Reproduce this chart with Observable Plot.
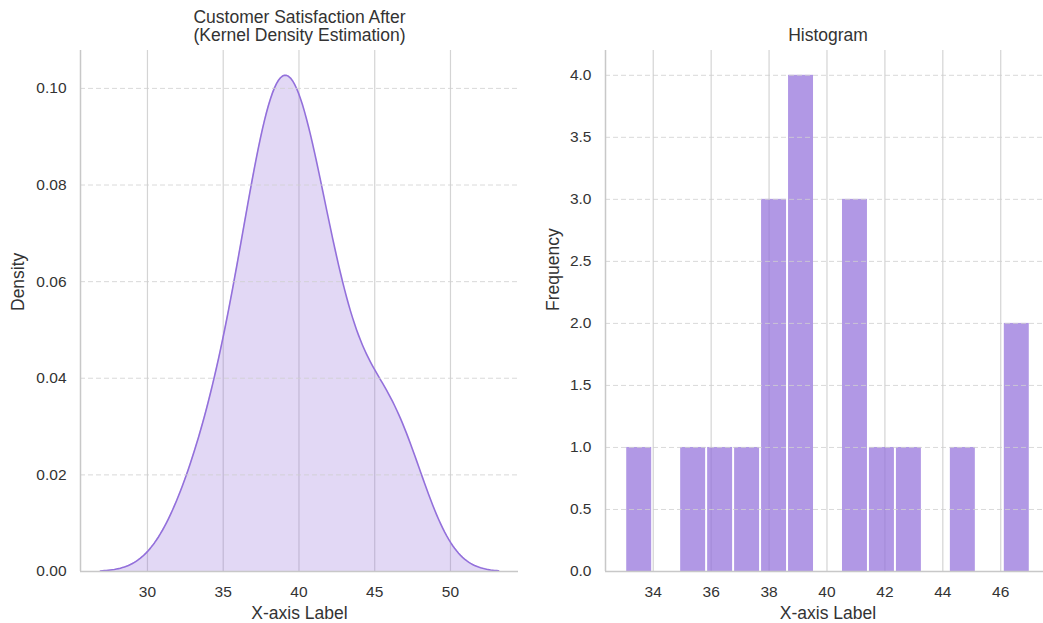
<!DOCTYPE html>
<html>
<head>
<meta charset="utf-8">
<script src="https://cdn.jsdelivr.net/npm/d3@7"></script>
<script src="https://cdn.jsdelivr.net/npm/@observablehq/plot@0.6"></script>
<style>
  html, body { margin: 0; padding: 0; background: #fff; overflow: hidden; }
  #wrap { position: relative; width: 1043px; height: 623px; overflow: hidden; }
  #left { position: absolute; left: 0; top: 0; width: 530px; }
  #right { position: absolute; left: 530px; top: 0; width: 520px; }
  svg { font-family: "Liberation Sans", Arial, sans-serif; max-width: none !important; }
</style>
</head>
<body>
<div id="wrap"><div id="left"></div><div id="right"></div></div>
<script>
// Observed values (customer satisfaction after)
const satisfaction = [33.05, 35.0, 35.9, 36.9, 37.75, 38.1, 38.5, 38.7, 39.0, 39.3, 39.5,
                      40.6, 41.0, 41.4, 42.2, 43.2, 45.1, 46.2, 47.02];
const binCount = 15;
const kdeTicksX = [30, 35, 40, 45, 50];
const kdeTicksY = [0, 0.02, 0.04, 0.06, 0.08, 0.10];
const histTicksX = [34, 36, 38, 40, 42, 44, 46];
const histTicksY = [0, 0.5, 1, 1.5, 2, 2.5, 3, 3.5, 4];
const kdeTitle = "Customer Satisfaction After\n(Kernel Density Estimation)";
const histTitle = "Histogram";
const xLabel = "X-axis Label";
const kdeYLabel = "Density";
const histYLabel = "Frequency";

const textColor = "#333";
const gridColor = "#d4d4d4";
const purple = "#9370db";

// Gaussian KDE with Scott's bandwidth (as seaborn/scipy), cut = 3
const n = satisfaction.length;
const sd = d3.deviation(satisfaction);
const bw = sd * Math.pow(n, -1 / 5);
const [dmin, dmax] = d3.extent(satisfaction);
const lo = dmin - 3 * bw, hi = dmax + 3 * bw;
const grid = d3.range(200).map(i => lo + (hi - lo) * i / 199);
const kde = grid.map(x => ({
  x,
  y: d3.sum(satisfaction, v => Math.exp(-0.5 * ((x - v) / bw) ** 2)) / (n * bw * Math.sqrt(2 * Math.PI))
}));
const ymax = d3.max(kde, d => d.y);
const pad = (hi - lo) * 0.05;

const axisCommon = {tickSize: 0, fontSize: 15.5, fill: textColor};

const left = Plot.plot({
  width: 530, height: 623,
  marginLeft: 80, marginRight: 12, marginTop: 50, marginBottom: 52,
  style: {fontSize: "15.5px", color: textColor, background: "white"},
  x: {domain: [lo - pad, hi + pad]},
  y: {domain: [0, ymax * 1.05]},
  marks: [
    Plot.ruleX(kdeTicksX, {stroke: gridColor, strokeWidth: 1.2}),
    Plot.areaY(kde, {x: "x", y: "y", fill: purple, fillOpacity: 0.27}),
    Plot.lineY(kde, {x: "x", y: "y", stroke: purple, strokeWidth: 1.6}),
    Plot.ruleY(kdeTicksY.slice(1), {stroke: "#cfcfcf", strokeDasharray: "5,3", strokeOpacity: 0.8}),
    Plot.ruleY([0], {stroke: "#c8c8c8", strokeWidth: 1.5}),
    Plot.ruleX([lo - pad], {stroke: "#c8c8c8", strokeWidth: 1.5}),
    Plot.axisX(kdeTicksX, {...axisCommon, tickPadding: 14, label: null}),
    Plot.axisY(kdeTicksY, {...axisCommon, tickPadding: 14, tickFormat: d3.format(".2f"), label: null}),
    Plot.text([xLabel], {frameAnchor: "bottom", dy: 42, lineAnchor: "middle", fontSize: 17.5, fill: textColor}),
    Plot.text([kdeYLabel], {frameAnchor: "left", dx: -62, rotate: -90, fontSize: 17.5, fill: textColor}),
    Plot.text([kdeTitle], {frameAnchor: "top", dy: -24, lineAnchor: "middle", lineHeight: 1.03, fontSize: 17.5, fill: textColor})
  ]
});
document.getElementById("left").appendChild(left);

// Histogram: 15 equal-width bins spanning the data range
const w = (dmax - dmin) / binCount;
const innerEdges = d3.range(1, binCount).map(i => dmin + i * w);
const bins = d3.bin().domain([dmin, dmax]).thresholds(innerEdges)(satisfaction)
  .map(b => ({x1: b.x0, x2: b.x1, count: b.length}));
const hpad = (dmax - dmin) * 0.05;

const right = Plot.plot({
  width: 520, height: 623,
  marginLeft: 75, marginRight: 0, marginTop: 50, marginBottom: 52,
  style: {fontSize: "15.5px", color: textColor, background: "white"},
  x: {domain: [dmin - hpad, dmax + hpad]},
  y: {domain: [0, 4.2]},
  marks: [
    Plot.ruleX(histTicksX, {stroke: gridColor, strokeWidth: 1.2}),
    Plot.rectY(bins.filter(b => b.count > 0), {x1: "x1", x2: "x2", y: "count", fill: purple, fillOpacity: 0.72, insetLeft: 1, insetRight: 1}),
    Plot.ruleY(histTicksY.slice(1), {stroke: "#cfcfcf", strokeDasharray: "5,3", strokeOpacity: 0.8}),
    Plot.ruleY([0], {stroke: "#c8c8c8", strokeWidth: 1.5}),
    Plot.ruleX([dmin - hpad], {stroke: "#c8c8c8", strokeWidth: 1.5}),
    Plot.axisX(histTicksX, {...axisCommon, tickPadding: 14, label: null}),
    Plot.axisY(histTicksY, {...axisCommon, tickPadding: 14, tickFormat: d3.format(".1f"), label: null}),
    Plot.text([xLabel], {frameAnchor: "bottom", dy: 42, lineAnchor: "middle", fontSize: 17.5, fill: textColor}),
    Plot.text([histYLabel], {frameAnchor: "left", dx: -52, rotate: -90, fontSize: 17.5, fill: textColor}),
    Plot.text([histTitle], {frameAnchor: "top", dy: -15, lineAnchor: "middle", fontSize: 17.5, fill: textColor})
  ]
});
document.getElementById("right").appendChild(right);
</script>
</body>
</html>
